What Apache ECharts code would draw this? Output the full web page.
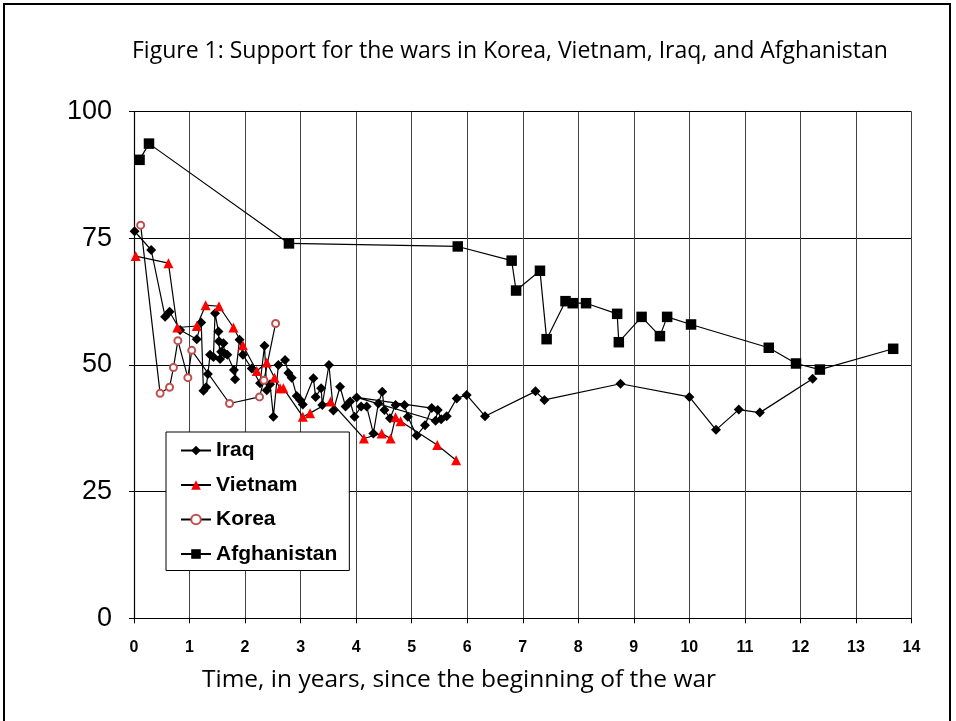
<!DOCTYPE html>
<html><head><meta charset="utf-8">
<script src="https://cdn.jsdelivr.net/npm/echarts@6/dist/echarts.min.js"></script>
<style>html,body{margin:0;padding:0;background:#fff}#c{width:956px;height:721px}</style>
</head><body><div id="c"></div>
<script>
const titleText = 'Figure 1: Support for the wars in Korea, Vietnam, Iraq, and Afghanistan';
const xAxisTitle = 'Time, in years, since the beginning of the war';
const seriesNames = ['Iraq', 'Vietnam', 'Korea', 'Afghanistan'];

const iraqYears = [0.01,0.31,0.56,0.64,0.83,1.13,1.21,1.25,1.30,1.33,1.37,1.43,1.46,1.52,1.53,1.55,1.57,1.61,1.63,1.68,1.80,1.82,1.90,1.96,2.12,2.27,2.35,2.39,2.45,2.51,2.60,2.72,2.78,2.84,2.93,2.99,3.04,3.23,3.27,3.37,3.39,3.51,3.59,3.71,3.81,3.89,3.97,4.09,4.19,4.31,4.40,4.47,4.51,4.61,4.71,4.87,4.93,5.09,5.24,5.36,4.01,5.43,5.47,5.53,5.63,5.81,5.99,6.32,7.23,7.39,8.76,10.0,10.48,10.89,11.27,12.22];
const iraqSupport = [76.4,72.7,59.5,60.5,56.9,55.1,58.4,44.9,45.6,48.2,52.0,51.6,60.2,56.6,54.7,51.2,52.6,54.3,52.3,52.0,49.0,47.2,55.0,52.0,49.3,46.4,53.8,45.0,46.2,39.8,50.0,51.0,48.4,47.5,43.9,43.1,42.2,47.4,43.7,45.4,42.1,50.0,41.0,45.7,41.8,42.8,39.8,41.8,41.8,36.5,42.4,44.7,41.1,39.5,42.1,42.1,39.8,36.1,38.1,41.5,43.6,39.0,41.1,39.3,39.9,43.4,44.1,39.9,44.8,43.1,46.3,43.7,37.2,41.2,40.6,47.3];

const vietnamYears = [0.03,0.62,0.78,1.13,1.29,1.53,1.79,1.96,2.21,2.39,2.53,2.63,2.69,3.04,3.17,3.54,4.14,4.46,4.62,4.71,4.80,5.46,5.80];
const vietnamSupport = [71.5,70.1,57.4,57.7,61.8,61.6,57.4,53.9,48.8,50.5,47.5,45.4,45.4,39.8,40.5,42.8,35.5,36.5,35.5,39.7,38.9,34.2,31.2];

const koreaYears = [0.12,0.47,0.64,0.71,0.79,0.97,1.04,1.72,2.26,2.34,2.55];
const koreaSupport = [77.6,44.4,45.6,49.5,54.8,47.5,52.9,42.4,43.7,47.0,58.2];

const afghanYears = [0.10,0.27,2.79,5.83,6.80,6.88,7.31,7.43,7.77,7.90,8.14,8.70,8.73,9.14,9.47,9.60,10.03,11.43,11.92,12.35,13.67];
const afghanSupport = [90.5,93.7,74.0,73.4,70.6,64.7,68.6,55.1,62.6,62.2,62.2,60.1,54.5,59.5,55.7,59.5,58.0,53.4,50.3,49.1,53.2];

const xTicks = [0,1,2,3,4,5,6,7,8,9,10,11,12,13,14];
const yTicks = [0,25,50,75,100];

function pairs(xs, ys){ return xs.map((x,i)=>[x, ys[i]]); }

const narrow = '"Liberation Sans Narrow", "Arial Narrow", "Liberation Sans", sans-serif';
const calibri = '"Open Sans", Lato, sans-serif';

const chart = echarts.init(document.getElementById('c'), null, {renderer:'canvas'});
chart.setOption({
  animation: false,
  backgroundColor: '#fff',
  title: {
    text: titleText, left: 127, top: 35,
    textStyle: {fontFamily: calibri, fontWeight: 'normal', fontSize: 23, color: '#000'}
  },
  graphic: [
    {type:'rect', shape:{x:4, y:4, width:946, height:740}, style:{fill:'none', stroke:'#000', lineWidth:2}, z:0, silent:true},
    {type:'text', left: 202, top: 668, style:{text: xAxisTitle, font: '24.5px ' + calibri, fill:'#000'}}
  ],
  legend: {
    data: seriesNames,
    orient: 'vertical',
    left: 166, top: 432,
    itemWidth: 30, itemHeight: 12, itemGap: 13.5,
    padding: [8, 12, 6, 14],
    backgroundColor: '#fff',
    borderColor: '#000', borderWidth: 1,
    textStyle: {fontFamily: narrow, fontWeight: 'bold', fontSize: 21, color: '#000'}
  },
  grid: {left: 134, right: 44.5, top: 111.7, bottom: 102.7},
  xAxis: {
    type: 'value', min: xTicks[0], max: xTicks[xTicks.length-1], interval: 1,
    axisLine: {show: true, lineStyle: {color: '#000', width: 1.2}},
    axisTick: {show: true, inside: false, length: 5, lineStyle: {color: '#000'}},
    axisLabel: {margin: 21, fontFamily: narrow, fontWeight: 'bold', fontSize: 16, color: '#000'},
    splitLine: {show: true, lineStyle: {color: '#444', width: 1}}
  },
  yAxis: {
    type: 'value', min: yTicks[0], max: yTicks[yTicks.length-1], interval: 25,
    axisLine: {show: true, lineStyle: {color: '#000', width: 1.2}},
    axisTick: {show: true, length: 5, lineStyle: {color: '#000'}},
    axisLabel: {margin: 22, fontFamily: narrow, fontSize: 27, color: '#000'},
    splitLine: {show: true, lineStyle: {color: '#000', width: 1}}
  },
  series: [
    {name:'Iraq', type:'line', data: pairs(iraqYears, iraqSupport), symbol:'diamond', symbolSize: 10,
     itemStyle:{color:'#000'}, lineStyle:{color:'#000', width:1.2}, z: 3},
    {name:'Vietnam', type:'line', data: pairs(vietnamYears, vietnamSupport), symbol:'triangle', symbolSize: 10,
     itemStyle:{color:'#ff0000'}, lineStyle:{color:'#000', width:1.2}, z: 4},
    {name:'Korea', type:'line', data: pairs(koreaYears, koreaSupport), symbol:'emptyCircle', symbolSize: 7,
     itemStyle:{color:'#c0504d', borderWidth:1}, lineStyle:{color:'#000', width:1.2}, z: 3},
    {name:'Afghanistan', type:'line', data: pairs(afghanYears, afghanSupport), symbol:'rect', symbolSize: 10.5,
     itemStyle:{color:'#000'}, lineStyle:{color:'#000', width:1.2}, z: 3}
  ]
});
</script></body></html>
